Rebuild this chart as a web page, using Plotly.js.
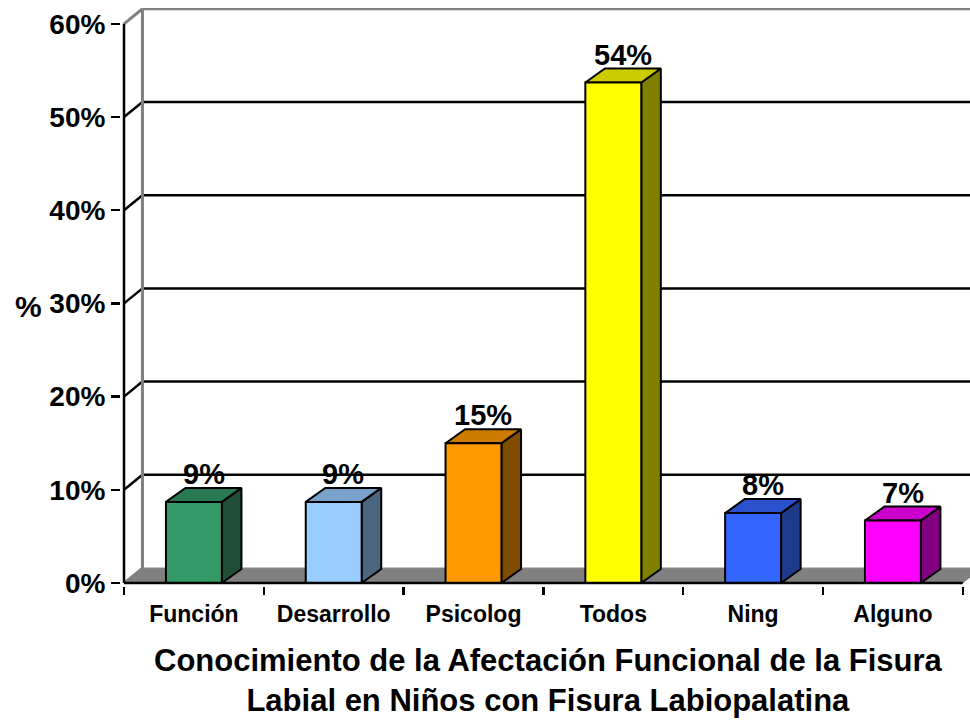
<!DOCTYPE html>
<html>
<head>
<meta charset="utf-8">
<script src="https://cdn.plot.ly/plotly-3.0.1.min.js"></script>
<style>html,body{margin:0;padding:0;background:#fff;}#chart{width:970px;height:720px;}</style>
</head>
<body>
<div id="chart"></div>
<script>
// ---- data ----
const categories = ['Función', 'Desarrollo', 'Psicolog', 'Todos', 'Ning', 'Alguno'];
const values = [8.7, 8.7, 15.0, 53.7, 7.5, 6.7];          // percent
const dataLabels = ['9%', '9%', '15%', '54%', '8%', '7%'];
const frontColors = ['#339966', '#99CCFF', '#FF9900', '#FFFF00', '#3366FF', '#FF00FF'];
const topColors   = ['#297A52', '#7AA3CC', '#CC7A00', '#CCCC00', '#2952CC', '#CC00CC'];
const sideColors  = ['#1F4D36', '#4D6680', '#804D00', '#808000', '#1F3A8A', '#800080'];
const yTicks = [0, 10, 20, 30, 40, 50, 60];
const titleText = 'Conocimiento de la Afectación Funcional de la Fisura<br>Labial en Niños con Fisura Labiopalatina';

// ---- 3D geometry (style) ----
const BAR_W = 0.40;   // front face width (category units)
const BDX = 0.14;     // bar depth, x (category units)
const BDY = 1.5;      // bar depth, y (percent units)
const WDX = 0.132;    // wall depth, x
const WDY = 1.61;     // wall depth, y
const X0 = -0.5, X1 = categories.length - 0.5;
const XMAX = 5.5515;
const FONT = 'Liberation Sans, Arial, sans-serif';

const traces = [];
categories.forEach((c, i) => {
  const v = values[i];
  const xl = i - BAR_W / 2, xr = i + BAR_W / 2;
  const face = (xs, ys, col) => traces.push({
    type: 'scatter', mode: 'lines', x: xs, y: ys, fill: 'toself',
    fillcolor: col, line: {color: '#000', width: 2}, hoverinfo: 'skip', showlegend: false
  });
  face([xr, xr + BDX, xr + BDX, xr, xr], [0, BDY, v + BDY, v, 0], sideColors[i]);
  face([xl, xr, xr + BDX, xl + BDX, xl], [v, v, v + BDY, v + BDY, v], topColors[i]);
  face([xl, xr, xr, xl, xl], [0, 0, v, v, 0], frontColors[i]);
});

const shapes = [];
// floor
shapes.push({type: 'path', xref: 'x', yref: 'y', layer: 'below',
  path: `M ${X0} 0 L ${X1} 0 L ${X1 + WDX} ${WDY} L ${X0 + WDX} ${WDY} Z`,
  fillcolor: '#808080', line: {color: '#8c8c8c', width: 1}});
// back wall gridlines & side diagonals
yTicks.forEach(t => {
  const top = t === yTicks[yTicks.length - 1];
  const col = (top || t === 0) ? '#808080' : '#000';
  const w = top ? 3 : 2.5;
  if (t > 0) {
    shapes.push({type: 'line', xref: 'x', yref: 'y', layer: 'below',
      x0: X0 + WDX, x1: XMAX + 1, y0: t + WDY, y1: t + WDY, line: {color: col, width: w}});
  }
  shapes.push({type: 'line', xref: 'x', yref: 'y', layer: 'below',
    x0: X0, x1: X0 + WDX, y0: t, y1: t + WDY, line: {color: col, width: w}});
});
// back wall left edge
shapes.push({type: 'line', xref: 'x', yref: 'y', layer: 'below',
  x0: X0 + WDX, x1: X0 + WDX, y0: WDY, y1: yTicks[yTicks.length - 1] + WDY, line: {color: '#808080', width: 3}});
// front value axis line
shapes.push({type: 'line', xref: 'x', yref: 'y', layer: 'above',
  x0: X0, x1: X0, y0: 0, y1: yTicks[yTicks.length - 1], line: {color: '#000', width: 2.5}});
// front category axis line
shapes.push({type: 'line', xref: 'x', yref: 'y', layer: 'above',
  x0: X0, x1: X1, y0: 0, y1: 0, line: {color: '#000', width: 2.5}});

const annotations = categories.map((c, i) => ({
  x: i + BDX / 2, y: values[i] + BDY, xref: 'x', yref: 'y',
  text: dataLabels[i], showarrow: false, yanchor: 'bottom', yshift: -4,
  font: {family: FONT, size: 29, color: '#000', weight: 700}
}));
annotations.push({x: -0.1084, y: 0.4844, xref: 'paper', yref: 'paper', text: '%',
  showarrow: false, xanchor: 'center', yanchor: 'middle',
  font: {family: FONT, size: 30, color: '#000', weight: 700}});
annotations.push({x: 0.503, y: -0.095, xref: 'paper', yref: 'paper', text: titleText,
  showarrow: false, xanchor: 'center', yanchor: 'top', align: 'center',
  font: {family: FONT, size: 31, color: '#000', weight: 700}});

const minorTicks = categories.map((c, i) => i - 0.5).concat([X1]);

const layout = {
  width: 970, height: 720,
  margin: {l: 121, r: 0, t: 8, b: 134, pad: 0},
  paper_bgcolor: '#fff', plot_bgcolor: 'rgba(0,0,0,0)',
  showlegend: false,
  xaxis: {
    range: [-0.5215, XMAX], showgrid: false, zeroline: false, showline: false,
    tickmode: 'array', tickvals: categories.map((c, i) => i), ticktext: categories,
    ticks: '', ticklabelstandoff: 12,
    tickfont: {family: FONT, size: 23, color: '#000', weight: 700},
    minor: {tickmode: 'array', tickvals: minorTicks, ticks: 'outside', ticklen: 8,
            tickwidth: 2.5, tickcolor: '#000', showgrid: false},
    fixedrange: true
  },
  yaxis: {
    range: [-0.322, 61.695], showgrid: false, zeroline: false, showline: false,
    tickmode: 'array', tickvals: yTicks, ticktext: yTicks.map(t => t + '%'),
    ticks: 'outside', ticklen: 9, tickwidth: 2.5, tickcolor: '#000',
    tickfont: {family: FONT, size: 28, color: '#000', weight: 700},
    fixedrange: true
  },
  shapes: shapes,
  annotations: annotations
};

Plotly.newPlot('chart', traces, layout, {staticPlot: true, displayModeBar: false});
</script>
</body>
</html>
